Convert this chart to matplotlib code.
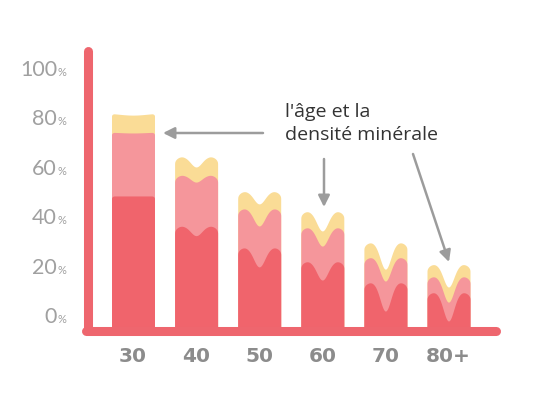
import numpy as np
import matplotlib
matplotlib.use("Agg")
import matplotlib.pyplot as plt
from matplotlib.transforms import offset_copy

# ---- data ----
ages = ["30", "40", "50", "60", "70", "80+"]
# top of each layer at the shoulders (peak) and in the middle notch (dip), in %
yellow_peak = [81.5, 64.0, 50.0, 42.0, 29.4, 20.6]
yellow_dip = [80.6, 59.7, 44.8, 33.9, 18.5, 11.3]
pink_peak = [73.8, 56.5, 43.1, 35.5, 23.4, 15.7]
pink_dip = [73.4, 53.6, 35.9, 27.8, 13.7, 5.2]
red_peak = [48.0, 36.0, 27.4, 21.8, 13.3, 9.3]
red_dip = [48.0, 32.0, 19.4, 14.1, 1.6, -2.4]
y_ticks = [0, 20, 40, 60, 80, 100]
note = "l'âge et la\ndensité minérale"

# ---- style ----
C_RED = "#F0646C"
C_PINK = "#F5969B"
C_YEL = "#FADC96"
C_AXIS = "#EE666E"
C_ARROW = "#9C9C9C"

W, H, DPI = 5.6, 4.1, 100
fig = plt.figure(figsize=(W, H), dpi=DPI)
ax = fig.add_axes([0, 0, 1, 1])
ax.axis("off")

PX_X = 63.1   # px per category step
PX_Y = 2.48   # px per percent
ax.set_xlim(-133 / PX_X, (560 - 133) / PX_X)
ax.set_ylim(-(410 - 316) / PX_Y, 316 / PX_Y)

base = -6.4
hw = 21.5  # bar half width px
notch_w = [20, 8.0, 8.0, 8.0, 7.5, 7.5]
round_r = [3, 9, 9, 9, 9, 9]


def top_curve(xs, c, peak, dip, s, r):
    u = (xs - c) * PX_X
    y = peak - (peak - dip) * np.exp(-(u / s) ** 2)
    edge = np.abs(u) - (hw - r)
    m = edge > 0
    e = np.clip(edge[m] / r, 0, 1)
    y[m] -= 0.8 * r * (1 - np.sqrt(1 - e ** 2)) / PX_Y
    return y


for i in range(len(ages)):
    xs = np.linspace(i - hw / PX_X, i + hw / PX_X, 300)
    for pk, dp, col in [(yellow_peak, yellow_dip, C_YEL),
                        (pink_peak, pink_dip, C_PINK),
                        (red_peak, red_dip, C_RED)]:
        yt = top_curve(xs, i, pk[i], dp[i], notch_w[i], round_r[i])
        ax.fill_between(xs, base, yt, color=col, lw=0, zorder=2)

# axes lines
ax.plot([(88 - 133) / PX_X, (88 - 133) / PX_X], [base, (316 - 52) / PX_Y],
        color=C_AXIS, lw=6.5, solid_capstyle="round", zorder=3)
ax.plot([(86 - 133) / PX_X, (496 - 133) / PX_X], [base, base],
        color=C_AXIS, lw=6.5, solid_capstyle="round", zorder=3)

# y labels
xl = (57 - 133) / PX_X
for t in y_ticks:
    tr_n = offset_copy(ax.transData, fig=fig, x=0, y=-7.5, units="dots")
    ax.text(xl, t, str(t), ha="right", va="baseline", fontsize=15.5,
            color="#A0A0A0", family="Lato", transform=tr_n)
    tr_p = offset_copy(ax.transData, fig=fig, x=1, y=-7.5, units="dots")
    ax.text(xl, t, "%", ha="left", va="baseline", fontsize=8,
            color="#A0A0A0", family="Lato", transform=tr_p)

# x labels
for i, a in enumerate(ages):
    ax.text(i, (316 - 357) / PX_Y, a, ha="center", va="center", fontsize=14.5,
            fontweight="bold", color="#8C8C8C", family="DejaVu Sans")

# annotation text
ax.text((285 - 133) / PX_X, (316 - 103) / PX_Y, note, ha="left", va="top",
        fontsize=14, color="#333333", family="Open Sans", linespacing=1.35)

# arrows
arrows = [((263, 134), (163, 134)),
          ((324, 160), (324, 208)),
          ((413, 155), (449, 263))]
for (x0, y0), (x1, y1) in arrows:
    ax.annotate("", xy=((x1 - 133) / PX_X, (316 - y1) / PX_Y),
                xytext=((x0 - 133) / PX_X, (316 - y0) / PX_Y),
                arrowprops=dict(arrowstyle="-|>", color=C_ARROW, lw=1.8,
                                mutation_scale=17, shrinkA=0, shrinkB=0),
                zorder=4)

fig.savefig("out.png", dpi=DPI)
